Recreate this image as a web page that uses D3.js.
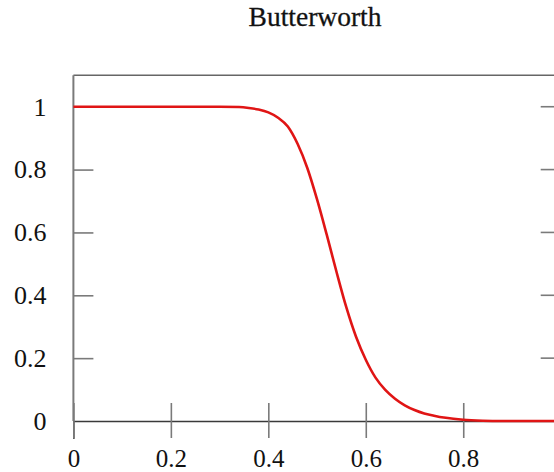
<!DOCTYPE html>
<html>
<head>
<meta charset="utf-8">
<script src="https://cdn.jsdelivr.net/npm/d3@7"></script>
<style>
  html, body { margin: 0; padding: 0; background: #fff; }
  svg { display: block; }
  text { font-family: "Liberation Serif", "Times New Roman", serif; fill: #111; }
</style>
</head>
<body>
<svg id="chart" width="554" height="472"></svg>
<script>
// Normalised frequency and magnitude of the Butterworth low-pass response
const freq = [0, 0.1, 0.2, 0.3, 0.34, 0.36, 0.38, 0.40, 0.42, 0.44, 0.46, 0.48,
  0.50, 0.52, 0.54, 0.56, 0.58, 0.60, 0.62, 0.64, 0.66, 0.68, 0.70, 0.72, 0.74,
  0.76, 0.78, 0.80, 0.84, 0.88, 0.94, 1.0];
const gain = [1, 1, 1, 1, 0.999, 0.996, 0.991, 0.982, 0.965, 0.937, 0.882, 0.805,
  0.705, 0.592, 0.474, 0.362, 0.268, 0.195, 0.138, 0.099, 0.071, 0.050, 0.035,
  0.024, 0.017, 0.011, 0.007, 0.004, 0.001, 0, 0, 0];
const xTicks = [0, 0.2, 0.4, 0.6, 0.8, 1];
const yTicks = [0, 0.2, 0.4, 0.6, 0.8, 1];
const title = "Butterworth";

const svg = d3.select("#chart");
const x = d3.scaleLinear().domain([0, 1]).range([73.4, 560.7]);
const y = d3.scaleLinear().domain([0, 1.1]).range([421, 75.3]);

// Title
svg.append("text")
  .attr("x", 315).attr("y", 26)
  .attr("text-anchor", "middle")
  .style("font-size", "27.5px")
  .attr("fill", "#1a1a1a")
  .attr("stroke", "#1a1a1a").attr("stroke-width", 0.3)
  .text(title);

// Frame: top, left and right edges
svg.append("line")
  .attr("x1", x(0)).attr("x2", x(1))
  .attr("y1", y(1.1)).attr("y2", y(1.1))
  .attr("stroke", "#666").attr("stroke-width", 1.6);
svg.append("line")
  .attr("x1", x(0)).attr("x2", x(0))
  .attr("y1", y(1.1)).attr("y2", y(0))
  .attr("stroke", "#7a7a7a").attr("stroke-width", 2);
svg.append("line")
  .attr("x1", x(1)).attr("x2", x(1))
  .attr("y1", y(1.1)).attr("y2", y(0))
  .attr("stroke", "#7a7a7a").attr("stroke-width", 2);

// Bottom axis with ticks crossing the axis line
const xAxis = svg.append("g")
  .attr("transform", `translate(0,${y(0)})`)
  .call(d3.axisBottom(x).tickValues(xTicks).tickFormat(d3.format("")).tickSize(18).tickPadding(0));
xAxis.select(".domain").attr("stroke", "#3a3a3a").attr("stroke-width", 1.4);
xAxis.selectAll(".tick line")
  .attr("y1", -18).attr("y2", 17)
  .attr("stroke", "#7a7a7a").attr("stroke-width", 1.6);
xAxis.selectAll(".tick text")
  .attr("y", 45.5).attr("dy", null)
  .style("font-size", "25px")
  .style("font-family", '"Liberation Serif", serif')
  .attr("fill", "#111");

// Left axis: inward ticks and labels
const yAxis = svg.append("g")
  .attr("transform", `translate(${x(0)},0)`)
  .call(d3.axisLeft(y).tickValues(yTicks).tickFormat(d3.format("")).tickSize(0));
yAxis.select(".domain").remove();
yAxis.selectAll(".tick line")
  .attr("x1", 0).attr("x2", d => d === 0 ? 0 : 20)
  .attr("stroke", "#7a7a7a").attr("stroke-width", 1.6);
yAxis.selectAll(".tick text")
  .attr("x", -27).attr("dy", "8.4px")
  .style("font-size", "26px")
  .style("font-family", '"Liberation Serif", serif')
  .attr("fill", "#111");

// Right edge inward ticks
svg.append("g").selectAll("line")
  .data(yTicks.filter(d => d > 0))
  .join("line")
  .attr("x1", x(1) - 20).attr("x2", x(1))
  .attr("y1", d => y(d)).attr("y2", d => y(d))
  .attr("stroke", "#7a7a7a").attr("stroke-width", 1.6);

// Response curve
const pts = freq.map((f, i) => [f, gain[i]]);
const line = d3.line()
  .x(d => x(d[0]))
  .y(d => y(d[1]))
  .curve(d3.curveMonotoneX);
svg.append("path")
  .datum(pts)
  .attr("d", line)
  .attr("fill", "none")
  .attr("stroke", "#e01515")
  .attr("stroke-width", 2.6);
</script>
</body>
</html>
